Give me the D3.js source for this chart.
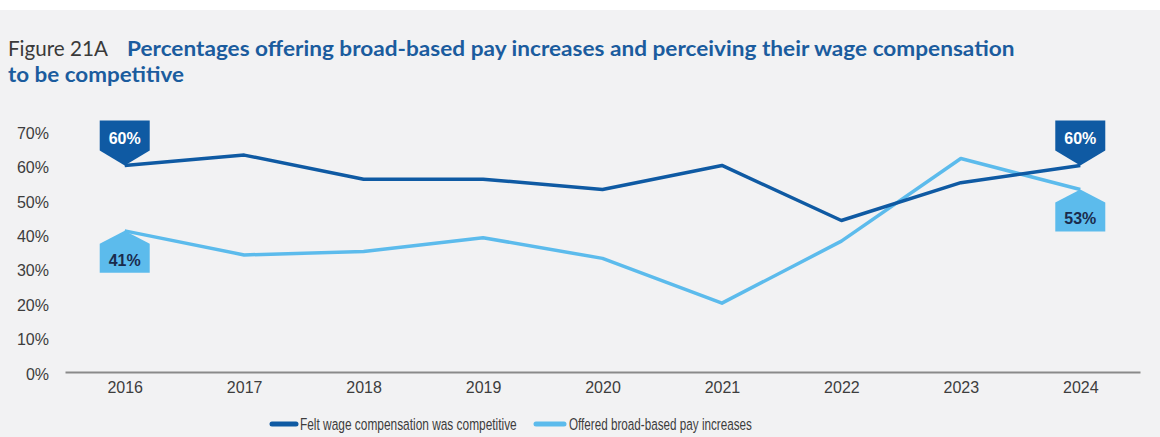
<!DOCTYPE html>
<html>
<head>
<meta charset="utf-8">
<script src="https://cdn.jsdelivr.net/npm/d3@7"></script>
<style>
  html, body { margin: 0; padding: 0; background: #ffffff; }
  svg { display: block; }
</style>
</head>
<body>
<svg id="chart" width="1160" height="437"></svg>
<script>
// Survey years and the two series (percent of respondents)
const years = ["2016", "2017", "2018", "2019", "2020", "2021", "2022", "2023", "2024"];
const feltCompetitive = [60, 63, 56, 56, 53, 60, 44, 55, 60];
const offeredIncreases = [41, 34, 35, 39, 33, 20, 38, 62, 53];
const yTicks = [0, 10, 20, 30, 40, 50, 60, 70];
const seriesNames = ["Felt wage compensation was competitive", "Offered broad-based pay increases"];
const figureLabel = "Figure 21A";
const titleLine1 = "Percentages offering broad-based pay increases and perceiving their wage compensation";
const titleLine2 = "to be competitive";

const DARK = "#0f5aa3";
const LIGHT = "#5cbbec";
const SANS = "'Liberation Sans', Arial, sans-serif";
const TITLE_FONT = "Lato, 'Open Sans', sans-serif";

const svg = d3.select("#chart");

// place a text at (x, y) and squeeze it horizontally to width w (narrow typeface look)
function narrowText(parent, x, y, w, str) {
  const g = parent.append("g");
  const t = g.append("text").attr("x", 0).attr("y", 0).text(str);
  return {
    text: t,
    fit() {
      const nat = t.node().getComputedTextLength();
      g.attr("transform", `translate(${x},${y}) scale(${w / nat},1)`);
      return t;
    }
  };
}

// panel background
svg.append("rect").attr("x", 0).attr("y", 10).attr("width", 1160).attr("height", 427).attr("fill", "#f2f2f3");

// title
{
  const a = narrowText(svg, 8, 56, 100, figureLabel);
  a.text.attr("font-family", TITLE_FONT).attr("font-size", 22).attr("fill", "#3a3a3a");
  a.fit();
  const b = narrowText(svg, 127, 56, 888, titleLine1);
  b.text.attr("font-family", TITLE_FONT).attr("font-weight", 700).attr("font-size", 21).attr("fill", "#1b5c9e");
  b.fit();
  const c = narrowText(svg, 8, 82, 176, titleLine2);
  c.text.attr("font-family", TITLE_FONT).attr("font-weight", 700).attr("font-size", 21).attr("fill", "#1b5c9e");
  c.fit();
}

// scales
const x = d3.scalePoint().domain(years).range([65, 1140]).padding(0.5);
const y = d3.scaleLinear().domain([0, 70]).range([372, 131]);

// y axis (labels only)
const yAxis = svg.append("g")
  .attr("transform", "translate(49,0)")
  .call(d3.axisLeft(y).tickValues(yTicks).tickFormat(d => d + "%").tickSize(0).tickPadding(0));
yAxis.select(".domain").remove();
yAxis.selectAll("text")
  .attr("font-family", SANS)
  .attr("font-size", 16).attr("fill", "#3d3d3d").attr("dy", "0.45em");

// x axis with baseline
const xAxis = svg.append("g")
  .attr("transform", "translate(0,372)")
  .call(d3.axisBottom(x).tickSize(0).tickSizeOuter(0).tickPadding(10));
xAxis.select(".domain").attr("stroke", "#8a8a8a").attr("stroke-width", 2);
xAxis.selectAll("text")
  .attr("font-family", SANS)
  .attr("font-size", 16).attr("fill", "#3d3d3d");

// lines
const line = d3.line().x((d, i) => x(years[i])).y(d => y(d));
svg.append("path").datum(offeredIncreases)
  .attr("d", line).attr("fill", "none").attr("stroke", LIGHT).attr("stroke-width", 3.5)
  .attr("stroke-linejoin", "round");
svg.append("path").datum(feltCompetitive)
  .attr("d", line).attr("fill", "none").attr("stroke", DARK).attr("stroke-width", 3.5)
  .attr("stroke-linejoin", "round");

// callout flags at first and last year
function flag(i, values, above, fill, textColor) {
  const px = x(years[i]);
  const py = y(values[i]);
  const hw = 25;
  let pts;
  if (above) {
    pts = [[px - hw, py - 45], [px + hw, py - 45], [px + hw, py - 15], [px, py], [px - hw, py - 15]];
  } else {
    pts = [[px, py], [px + hw, py + 13], [px + hw, py + 42], [px - hw, py + 42], [px - hw, py + 13]];
  }
  svg.append("path")
    .attr("d", "M" + pts.map(p => p.join(",")).join("L") + "Z")
    .attr("fill", fill);
  const lab = narrowText(svg, px - 16, above ? py - 27 : py + 29, 32, values[i] + "%");
  lab.text.attr("dy", "0.36em")
    .attr("font-family", SANS)
    .attr("font-size", 16).attr("font-weight", 700)
    .attr("fill", textColor);
  lab.fit();
}
const last = years.length - 1;
flag(0, feltCompetitive, true, DARK, "#ffffff");
flag(last, feltCompetitive, true, DARK, "#ffffff");
flag(0, offeredIncreases, false, LIGHT, "#1a2b4c");
flag(last, offeredIncreases, false, LIGHT, "#1a2b4c");

// legend
const legend = svg.append("g");
const legendItems = [
  { name: seriesNames[0], color: DARK, x0: 272, x1: 296, tx: 300, w: 217 },
  { name: seriesNames[1], color: LIGHT, x0: 536, x1: 564, tx: 569, w: 183 }
];
legendItems.forEach(it => {
  legend.append("line")
    .attr("x1", it.x0).attr("x2", it.x1).attr("y1", 424).attr("y2", 424)
    .attr("stroke", it.color).attr("stroke-width", 5).attr("stroke-linecap", "round");
  const lt = narrowText(legend, it.tx, 424, it.w, it.name);
  lt.text.attr("dy", "0.36em")
    .attr("font-family", SANS)
    .attr("font-size", 17).attr("fill", "#3d3d3d");
  lt.fit();
});
</script>
</body>
</html>
